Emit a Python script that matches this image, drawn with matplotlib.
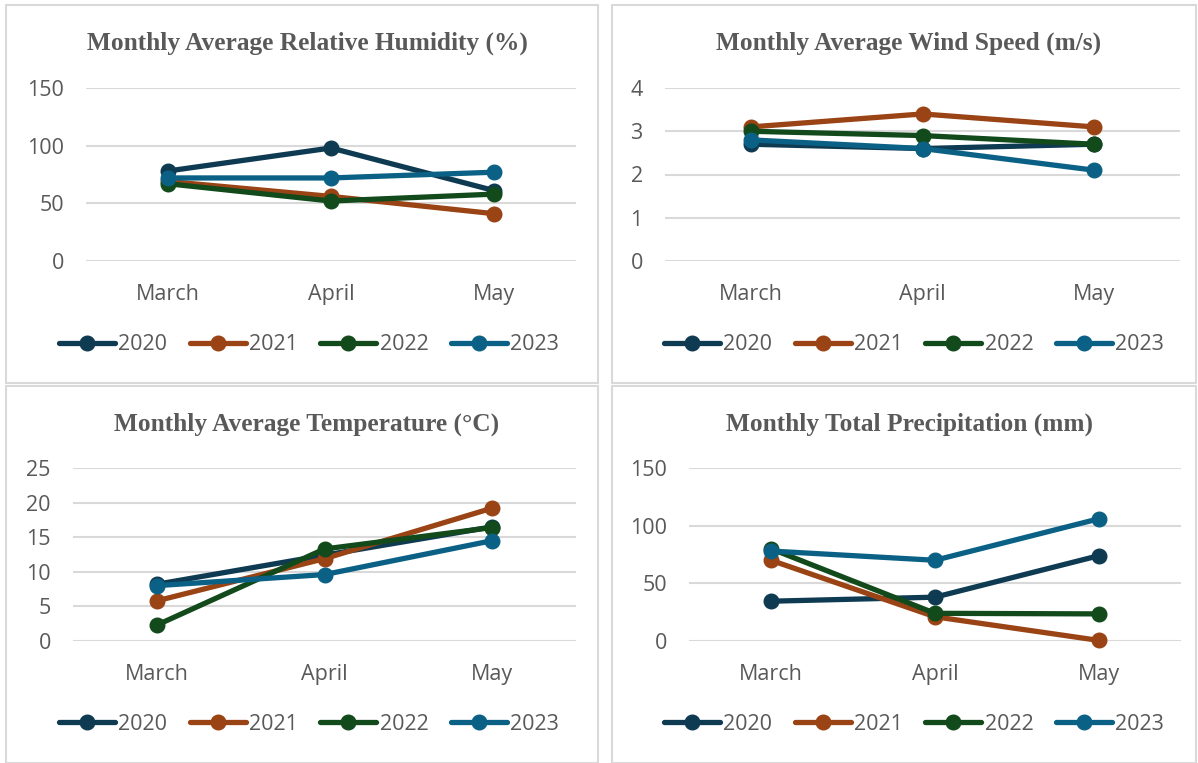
import matplotlib
matplotlib.use("Agg")
import matplotlib.pyplot as plt
from matplotlib.patches import Rectangle

months = ["March", "April", "May"]
years = ["2020", "2021", "2022", "2023"]
colors = ["#0E3A52", "#9A4315", "#124A1C", "#0B6185"]

humidity = {
    "2020": [78, 98, 61],
    "2021": [69, 56, 41],
    "2022": [67, 52, 58],
    "2023": [72, 72, 77],
}
wind = {
    "2020": [2.7, 2.6, 2.7],
    "2021": [3.1, 3.4, 3.1],
    "2022": [3.0, 2.9, 2.7],
    "2023": [2.8, 2.6, 2.1],
}
temperature = {
    "2020": [8.2, 12.4, 16.5],
    "2021": [5.8, 11.9, 19.2],
    "2022": [2.3, 13.3, 16.4],
    "2023": [8.0, 9.6, 14.5],
}
precipitation = {
    "2020": [34.5, 38, 74],
    "2021": [70, 21, 0.5],
    "2022": [80, 24, 23.5],
    "2023": [78, 70, 106],
}

W, H = 1198, 763
fig = plt.figure(figsize=(W / 100, H / 100), dpi=100)
fig.patch.set_facecolor("white")

SANS = ["Open Sans", "DejaVu Sans"]
GREY = "#595959"


def box(x0, y0, x1, y1):
    # pixel box (top-left origin) -> figure fraction rect
    return [x0 / W, 1 - y1 / H, (x1 - x0) / W, (y1 - y0) / H]


panels = [
    # title, data, yticks, panel box, axes box, legend centre
    ("Monthly Average Relative Humidity (%)", humidity, [0, 50, 100, 150],
     (6, 5, 598, 383), (86, 88, 576, 261), (309, 345)),
    ("Monthly Average Wind Speed (m/s)", wind, [0, 1, 2, 3, 4],
     (612, 5, 1196, 383), (665, 88, 1180, 261), (914, 345)),
    ("Monthly Average Temperature (°C)", temperature, [0, 5, 10, 15, 20, 25],
     (6, 386, 598, 763), (73, 468, 576, 641), (309, 724)),
    ("Monthly Total Precipitation (mm)", precipitation, [0, 50, 100, 150],
     (612, 386, 1196, 763), (689, 468, 1181, 641), (914, 724)),
]

for title, data, yticks, pbox, abox, leg in panels:
    px0, py0, px1, py1 = pbox
    fig.patches.append(Rectangle((px0 / W, 1 - py1 / H), (px1 - px0) / W, (py1 - py0) / H,
                                 transform=fig.transFigure, fill=False,
                                 edgecolor="#D9D9D9", linewidth=1.5))
    fig.text((px0 + px1) / 2 / W + 5 / W, 1 - (py0 + 38) / H, title,
             ha="center", va="center", fontsize=18.3, fontweight="bold",
             family="Liberation Serif", color=GREY)

    ax = fig.add_axes(box(*abox))
    x = range(len(months))
    for yr, c in zip(years, colors):
        ax.plot(x, data[yr], color=c, linewidth=3.8, marker="o", markersize=10.5,
                label=yr, clip_on=False, solid_capstyle="round")
    ax.set_xlim(-0.5, 2.5)
    ax.set_ylim(yticks[0], yticks[-1])
    ax.set_yticks(yticks)
    ax.set_xticks(list(x))
    ax.set_xticklabels(months)
    ax.grid(axis="y", color="#D9D9D9", linewidth=1.5)
    ax.set_axisbelow(True)
    for s in ax.spines.values():
        s.set_visible(False)
    ax.tick_params(length=0, labelsize=15.5, labelcolor=GREY)
    ax.tick_params(axis="y", pad=16)
    ax.tick_params(axis="x", pad=16.5)
    for lbl in ax.get_xticklabels() + ax.get_yticklabels():
        lbl.set_family(SANS)

    handles, labels = ax.get_legend_handles_labels()
    fig.legend(handles, labels, loc="center", ncol=4, frameon=False,
               bbox_to_anchor=(leg[0] / W, 1 - leg[1] / H),
               prop={"family": SANS, "size": 15.5}, labelcolor=GREY,
               handlelength=2.6, handletextpad=0.15, columnspacing=1.05,
               borderaxespad=0)

fig.savefig("out.png", dpi=100, facecolor="white")
